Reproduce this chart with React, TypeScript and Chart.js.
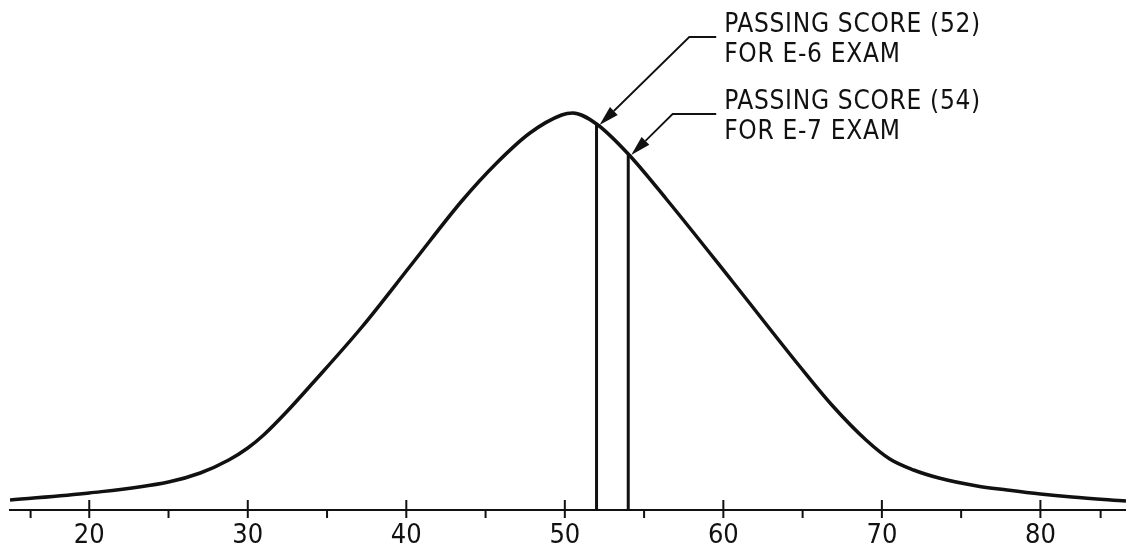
import { useEffect, useRef } from "react";
import { Chart, registerables } from "chart.js";

Chart.register(...registerables);

// Test scores (x) and relative frequency (y, arbitrary units)
const scores = [15, 20, 25, 27, 28.8, 30, 31, 32.5, 34.1, 37.2, 40.4, 43.5, 45.7, 47.8, 49.8, 50.5, 52, 54, 56.4, 60.6, 64.8, 66.9, 69, 70.5, 72, 73.6, 76, 77.9, 80, 82, 85.4];
const frequency = [2.5, 4.25, 7, 9.25, 12.5, 15.5, 18.75, 24.75, 31.75, 45.75, 61.75, 77.25, 86.75, 94.25, 98.75, 99.25, 96.5, 89, 77.75, 57, 36, 26, 17.5, 12.75, 10, 8, 6, 5, 4, 3.25, 2.25];

const passingScores = [52, 54];
const calloutText = [
  ["PASSING SCORE (52)", "FOR E-6 EXAM"],
  ["PASSING SCORE (54)", "FOR E-7 EXAM"],
];
// leader elbows in data units (score, frequency)
const calloutElbowX = [57.85, 56.8];
const calloutElbowY = [118.25, 99];
const calloutShelfEndX = 59.55;
const calloutTextX = 60.05;

const labelTicks = [20, 30, 40, 50, 60, 70, 80];
const minorTicks = [16.3, 25, 35, 45, 55, 65, 75, 83.8];

const FONT = '"Liberation Sans Narrow", "DejaVu Sans Condensed", "Roboto", sans-serif';
const INK = "#111";

const drawingPlugin = {
  id: "drawing",
  afterDraw(chart: any) {
    const { ctx, chartArea, scales } = chart;
    const xs = scales.x;
    const ys = scales.y;
    const base = chartArea.bottom;
    ctx.save();
    ctx.strokeStyle = INK;
    ctx.fillStyle = INK;
    ctx.lineCap = "butt";
    // tick marks
    ctx.lineWidth = 2;
    labelTicks.forEach((v) => {
      const px = xs.getPixelForValue(v);
      ctx.beginPath();
      ctx.moveTo(px, base - 10);
      ctx.lineTo(px, base + 8);
      ctx.stroke();
    });
    minorTicks.forEach((v) => {
      const px = xs.getPixelForValue(v);
      ctx.beginPath();
      ctx.moveTo(px, base);
      ctx.lineTo(px, base + 8);
      ctx.stroke();
    });

    // callouts
    passingScores.forEach((s, i) => {
      const f = frequency[scores.indexOf(s)];
      const tipX = xs.getPixelForValue(s) + 3;
      const tipY = ys.getPixelForValue(f) + 1;
      const ex = xs.getPixelForValue(calloutElbowX[i]);
      const ey = ys.getPixelForValue(calloutElbowY[i]);
      const sx = xs.getPixelForValue(calloutShelfEndX);
      ctx.lineWidth = 1.8;
      ctx.beginPath();
      ctx.moveTo(sx, ey);
      ctx.lineTo(ex, ey);
      const ang = Math.atan2(tipY - ey, tipX - ex);
      const len = 20;
      const hw = 5.5;
      const bx = tipX - Math.cos(ang) * len;
      const by = tipY - Math.sin(ang) * len;
      ctx.lineTo(bx, by);
      ctx.stroke();
      // arrowhead
      ctx.beginPath();
      ctx.moveTo(tipX, tipY);
      ctx.lineTo(bx + Math.sin(ang) * hw, by - Math.cos(ang) * hw);
      ctx.lineTo(bx - Math.sin(ang) * hw, by + Math.cos(ang) * hw);
      ctx.closePath();
      ctx.fill();
      // text
      const tx = xs.getPixelForValue(calloutTextX);
      ctx.font = `26px ${FONT}`;
      (ctx as any).letterSpacing = "0.7px";
      ctx.textAlign = "left";
      ctx.textBaseline = "alphabetic";
      ctx.fillText(calloutText[i][0], tx, ey - 5);
      ctx.fillText(calloutText[i][1], tx, ey + 25);
      (ctx as any).letterSpacing = "0px";
    });
    ctx.restore();
  },
};

export default function App() {
  const ref = useRef<HTMLCanvasElement | null>(null);
  useEffect(() => {
    if (!ref.current) return;
    const curve = scores.map((x, i) => ({ x, y: frequency[i] }));
    const chart = new Chart(ref.current, {
      type: "scatter",
      data: {
        datasets: [
          {
            data: curve,
            showLine: true,
            borderColor: INK,
            borderWidth: 3.5,
            pointRadius: 0,
            cubicInterpolationMode: "monotone",
            fill: false,
          } as any,
          ...passingScores.map((s) => ({
            data: [
              { x: s, y: 0 },
              { x: s, y: frequency[scores.indexOf(s)] },
            ],
            showLine: true,
            borderColor: INK,
            borderWidth: 3,
            pointRadius: 0,
          })),
        ],
      },
      options: {
        animation: false,
        responsive: true,
        maintainAspectRatio: false,
        layout: { padding: { top: 10, left: 10, right: 0, bottom: 0 } },
        plugins: { legend: { display: false }, tooltip: { enabled: false } },
        events: [],
        scales: {
          x: {
            type: "linear",
            min: 15,
            max: 85.4,
            afterBuildTicks: (scale: any) => {
              scale.ticks = labelTicks.map((v) => ({ value: v }));
            },
            afterFit: (scale: any) => {
              scale.height = 40;
            },
            ticks: {
              font: { family: FONT, size: 27 },
              color: INK,
              padding: 10,
              maxRotation: 0,
              autoSkip: false,
              callback: (v: any) => String(v),
            },
            grid: { display: false, drawTicks: false },
            border: { display: true, color: INK, width: 2 },
          },
          y: { display: false, min: 0, max: 125 },
        },
      },
      plugins: [drawingPlugin],
    });
    return () => chart.destroy();
  }, []);
  return (
    <div style={{ position: "absolute", left: 0, top: 0, width: 1126, height: 550, background: "#fff" }}>
      <canvas ref={ref} />
    </div>
  );
}
